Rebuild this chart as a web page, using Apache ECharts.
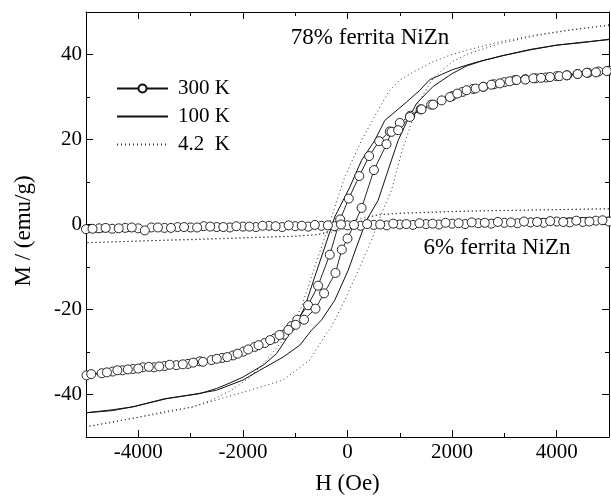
<!DOCTYPE html>
<html><head><meta charset="utf-8">
<script src="https://cdn.jsdelivr.net/npm/echarts@6/dist/echarts.min.js"></script>
<style>html,body{margin:0;padding:0;background:#fff}#c{width:611px;height:496px}</style>
</head><body><div id="c"></div>
<script>
// ---------- ticks / labels ----------
const xMajorTicks = [-4000, -2000, 0, 2000, 4000];
const yMajorTicks = [-40, -20, 0, 20, 40];
const seriesNames = ['300 K', '100 K', '4.2  K'];
const xTitle = 'H (Oe)';
const yTitle = 'M / (emu/g)';
const label78 = '78% ferrita NiZn';
const label6 = '6% ferrita NiZn';

// ---------- 78% ferrita NiZn : 300 K (circles) ----------
const big300Desc = [[5000,36.2],[4800,36.0],[4600,35.7],[4400,35.4],[4200,35.1],[4000,34.9],[3800,34.6],[3600,34.4],[3400,34.2],[3200,34.0],[3000,33.5],[2800,33.0],[2600,32.4],[2400,31.9],[2200,31.2],[2000,30.2],[1800,29.2],[1600,28.2],[1400,27.1],[1200,25.6],[1000,23.9],[810,21.9],[605,19.6],[413,16.1],[225,11.4],[25,6.1],[-140,1.2],[-339,-7.1],[-563,-14.4],[-754,-19.0],[-960,-22.4],[-1072,-23.9],[-1213,-25.9],[-1391,-26.8],[-1583,-27.9],[-1774,-28.8],[-1990,-29.9],[-2189,-30.8],[-2400,-31.4],[-2600,-31.9],[-2827,-32.2],[-3050,-32.8],[-3273,-33.1],[-3500,-33.3],[-3700,-33.6],[-3912,-33.6],[-4100,-34.0],[-4300,-34.3],[-4490,-34.6],[-4700,-35.0],[-4990,-35.5]];
const big300Asc = [[-4900,-35.2],[-4600,-34.8],[-4400,-34.3],[-4200,-34.1],[-4000,-33.9],[-3800,-33.5],[-3600,-33.4],[-3400,-33.0],[-3150,-32.9],[-2950,-32.5],[-2764,-32.3],[-2500,-31.6],[-2300,-31.2],[-2100,-30.4],[-1900,-29.4],[-1700,-28.4],[-1480,-27.2],[-1300,-26.0],[-1130,-24.8],[-990,-23.6],[-830,-22.4],[-612,-19.8],[-448,-16.2],[-230,-11.4],[-109,-5.9],[0,-3.3],[270,3.9],[506,12.8],[746,18.9],[842,21.8],[969,22.2],[1192,25.3],[1416,27.1],[1638,28.2],[1958,30.0],[2100,30.8],[2277,31.6],[2450,32.0],[2595,32.4],[2750,32.9],[2915,33.2],[3100,33.7],[3234,34.0],[3400,34.1],[3553,34.4],[3700,34.5],[3872,34.7],[4050,34.9],[4191,35.1],[4400,35.4],[4574,35.7],[4750,35.8],[4957,36.1]];

// ---------- 78% ferrita NiZn : 100 K (solid) ----------
const big100Desc = [[5000,43.6],[4500,42.8],[4000,42.2],[3500,41.1],[3000,39.8],[2500,38.3],[2277,37.5],[2000,36.4],[1800,35.3],[1575,34.1],[1384,31.6],[1129,28.8],[714,24.5],[522,19.8],[268,15.1],[44,8.8],[-243,1.8],[-434,-5.3],[-626,-12.3],[-817,-19.4],[-945,-22.6],[-1041,-24.1],[-1200,-27.5],[-1359,-30.4],[-1600,-33.0],[-1998,-35.9],[-2250,-37.3],[-2507,-38.6],[-2827,-39.8],[-3100,-40.3],[-3464,-41.0],[-4103,-42.9],[-4500,-43.6],[-5000,-44.3]];
const big100Asc = [[-5000,-44.5],[-4700,-44.0],[-4500,-43.8],[-4103,-42.9],[-3500,-41.0],[-2955,-40.0],[-2507,-39.0],[-1998,-36.6],[-1678,-34.3],[-1232,-31.2],[-913,-28.4],[-689,-24.9],[-498,-22.5],[-243,-17.8],[12,-10.8],[172,-5.3],[363,1.0],[586,5.7],[777,12.8],[969,19.8],[1129,24.0],[1320,28.5],[1638,32.5],[2000,35.5],[2277,37.3],[2600,38.6],[2915,39.6],[3500,41.2],[4000,42.2],[4500,42.9],[5000,43.5]];

// ---------- 78% ferrita NiZn : 4.2 K (dotted) ----------
const big42Desc = [[5000,47.0],[4600,46.3],[4191,45.7],[3553,44.5],[2915,43.0],[2277,41.0],[1950,39.8],[1638,38.3],[1320,36.3],[1000,34.0],[800,31.5],[522,25.5],[268,19.8],[-52,11.2],[-243,4.1],[-498,-5.3],[-689,-12.3],[-880,-19.4],[-976,-21.7],[-1232,-27.2],[-1550,-31.9],[-1870,-36.0],[-2250,-39.2],[-2600,-41.3],[-2955,-42.9],[-3500,-44.3],[-4103,-45.6],[-4500,-46.4],[-5000,-47.6]];
const big42Asc = [[-5000,-47.7],[-4500,-46.6],[-4103,-45.6],[-3500,-44.0],[-2955,-42.9],[-2507,-41.3],[-1870,-39.0],[-1232,-36.6],[-722,-31.9],[-402,-25.6],[-306,-24.1],[-52,-17.8],[204,-10.8],[459,-3.7],[651,2.6],[842,8.1],[1033,17.0],[1200,23.0],[1350,28.5],[1640,34.5],[2000,38.3],[2277,40.0],[2915,42.6],[3553,44.3],[4191,45.6],[4600,46.3],[5000,46.8]];

// ---------- 6% ferrita NiZn ----------
const small300Desc = [[5000,0.7],[4750,0.9],[4500,0.6],[4250,0.5],[4000,0.7],[3750,0.4],[3500,0.5],[3250,0.3],[3000,0.4],[2750,0.2],[2500,0.3],[2250,0.1],[2000,0.2],[1750,0.0],[1500,0.1],[1250,-0.1],[1000,0.0],[750,-0.2],[500,-0.1],[250,-0.3],[0,-0.2],[-250,-0.4],[-500,-0.3],[-750,-0.5],[-1000,-0.4],[-1250,-0.6],[-1500,-0.3],[-1750,-0.6],[-2000,-0.5],[-2250,-0.7],[-2500,-0.6],[-2750,-0.4],[-3000,-0.7],[-3250,-0.6],[-3500,-0.8],[-3750,-0.7],[-4000,-0.9],[-4250,-0.8],[-4500,-1.0],[-4750,-0.9],[-5000,-1.1]];
const small300Asc = [[-4875,-1.0],[-4625,-0.8],[-4375,-0.9],[-4125,-0.7],[-3875,-1.4],[-3625,-0.7],[-3375,-0.8],[-3125,-0.6],[-2875,-0.7],[-2625,-0.5],[-2375,-0.6],[-2125,-0.4],[-1875,-0.5],[-1625,-0.3],[-1375,-0.4],[-1125,-0.2],[-875,-0.3],[-625,-0.1],[-375,-0.2],[-125,0.0],[125,-0.1],[375,0.1],[625,0.0],[875,0.2],[1125,0.1],[1375,0.3],[1625,0.2],[1875,0.4],[2125,0.3],[2375,0.5],[2625,0.4],[2875,0.6],[3125,0.5],[3375,0.7],[3625,0.6],[3875,0.8],[4125,0.6],[4375,0.9],[4625,0.7],[4875,1.0]];
const small100Desc = [[5000,1.7],[4000,1.4],[3000,1.0],[2000,0.7],[1000,0.4],[500,0.3],[0,-0.1],[-500,-0.4],[-1000,-0.6],[-2000,-0.9],[-3000,-1.2],[-4000,-1.5],[-5000,-1.8]];
const small100Asc = [[-5000,-1.6],[-4000,-1.4],[-3000,-1.1],[-2000,-0.8],[-1000,-0.5],[-500,-0.3],[0,0.0],[500,0.3],[1000,0.5],[2000,0.8],[3000,1.1],[4000,1.4],[5000,1.6]];
const small42Desc = [[5000,3.7],[4500,3.6],[4000,3.5],[3500,3.4],[3000,3.3],[2500,3.2],[2000,3.0],[1500,2.8],[1000,2.6],[600,2.3],[300,1.6],[0,0.5],[-200,-0.6],[-400,-1.8],[-600,-2.4],[-1000,-2.8],[-1500,-3.0],[-2000,-3.2],[-2500,-3.4],[-3000,-3.6],[-3500,-3.7],[-4000,-3.9],[-4500,-4.1],[-5000,-4.3]];
const small42Asc = [[-5000,-4.3],[-4500,-4.1],[-4000,-3.9],[-3500,-3.7],[-3000,-3.5],[-2500,-3.3],[-2000,-3.1],[-1500,-2.9],[-1000,-2.7],[-600,-2.4],[-300,-1.8],[0,-0.8],[200,0.4],[400,1.6],[600,2.3],[1000,2.7],[1500,2.9],[2000,3.1],[2500,3.2],[3000,3.3],[3500,3.4],[4000,3.5],[4500,3.6],[5000,3.7]];

// ---------- styling ----------
const F = '"Liberation Serif", "Times New Roman", serif';
const K = '#000';
const noMark = { color: 'rgba(0,0,0,0)', borderWidth: 0, opacity: 0 };
const style300 = {
  type: 'line', symbol: 'circle', symbolSize: 9, showSymbol: true,
  itemStyle: { color: '#fff', borderColor: '#111', borderWidth: 0.9 },
  lineStyle: { color: '#111', width: 0.9 }, z: 4
};
const style100 = { type: 'line', symbol: 'none', itemStyle: noMark, lineStyle: { color: '#111', width: 1 }, z: 3 };
const style42 = { type: 'line', symbol: 'none', itemStyle: noMark, lineStyle: { color: '#333', width: 1, type: [1, 3] }, z: 2 };

function mk(name, st, data) {
  return Object.assign({ name: name, data: data, animation: false, emphasis: { disabled: true }, silent: true }, st);
}
function plain(v) { return String(v); }

function xAx(pos, major, labels) {
  const o = {
    type: 'value', position: pos, min: -5000, max: 5000,
    axisLine: { show: major, onZero: false, lineStyle: { color: K, width: 1 } },
    splitLine: { show: false },
    axisTick: { show: true, inside: true, length: major ? 7 : 4, lineStyle: { color: K, width: 1 } },
    axisLabel: { show: false }
  };
  if (major) { o.axisTick.customValues = xMajorTicks; } else { o.interval = 1000; }
  if (labels) {
    o.axisLabel = { show: true, customValues: xMajorTicks, formatter: plain, fontFamily: F, fontSize: 21, color: K, margin: 5 };
    o.name = xTitle; o.nameLocation = 'middle'; o.nameGap = 35;
    o.nameTextStyle = { fontFamily: F, fontSize: 23, color: K };
  }
  return o;
}
function yAx(pos, major, labels) {
  const o = {
    type: 'value', position: pos, min: -50, max: 50,
    axisLine: { show: major, onZero: false, lineStyle: { color: K, width: 1 } },
    splitLine: { show: false },
    axisTick: { show: true, inside: true, length: major ? 7 : 4, lineStyle: { color: K, width: 1 } },
    axisLabel: { show: false }
  };
  if (major) { o.axisTick.customValues = yMajorTicks; } else { o.interval = 10; }
  if (labels) {
    o.axisLabel = { show: true, customValues: yMajorTicks, formatter: plain, fontFamily: F, fontSize: 21, color: K, margin: 4 };
  }
  return o;
}

const chart = echarts.init(document.getElementById('c'), null, { renderer: 'canvas' });
chart.setOption({
  animation: false,
  backgroundColor: '#fff',
  grid: { left: 86, right: 2, top: 12, bottom: 59, containLabel: false, outerBoundsMode: 'none' },
  xAxis: [xAx('bottom', true, true), xAx('bottom', false, false), xAx('top', true, false), xAx('top', false, false)],
  yAxis: [yAx('left', true, true), yAx('left', false, false), yAx('right', true, false), yAx('right', false, false)],
  legend: {
    data: [
      { name: seriesNames[0] },
      { name: seriesNames[1], itemStyle: noMark },
      { name: seriesNames[2], itemStyle: noMark }
    ],
    orient: 'vertical', left: 116, top: 78, padding: 0,
    itemWidth: 51, itemHeight: 10, itemGap: 7, selectedMode: false,
    textStyle: { fontFamily: F, fontSize: 21, color: K, padding: [0, 0, 0, 5] }
  },
  graphic: [
    { type: 'text', x: 370, y: 38, silent: true,
      style: { text: label78, fontFamily: F, fontSize: 23, fill: K, align: 'center', verticalAlign: 'middle' } },
    { type: 'text', x: 497, y: 248, silent: true,
      style: { text: label6, fontFamily: F, fontSize: 23, fill: K, align: 'center', verticalAlign: 'middle' } },
    { type: 'text', x: 24, y: 231, rotation: Math.PI / 2, silent: true,
      style: { text: yTitle, fontFamily: F, fontSize: 23, fill: K, align: 'center', verticalAlign: 'middle' } }
  ],
  series: [
    mk(seriesNames[0], style300, big300Desc.concat(big300Asc)),
    mk(seriesNames[1], style100, big100Desc.concat(big100Asc)),
    mk(seriesNames[2], style42, big42Desc.concat(big42Asc)),
    mk(seriesNames[2], style42, small42Desc.concat(small42Asc)),
    mk(seriesNames[1], style100, small100Desc.concat(small100Asc)),
    mk(seriesNames[0], style300, small300Desc.concat(small300Asc))
  ]
});
</script></body></html>
